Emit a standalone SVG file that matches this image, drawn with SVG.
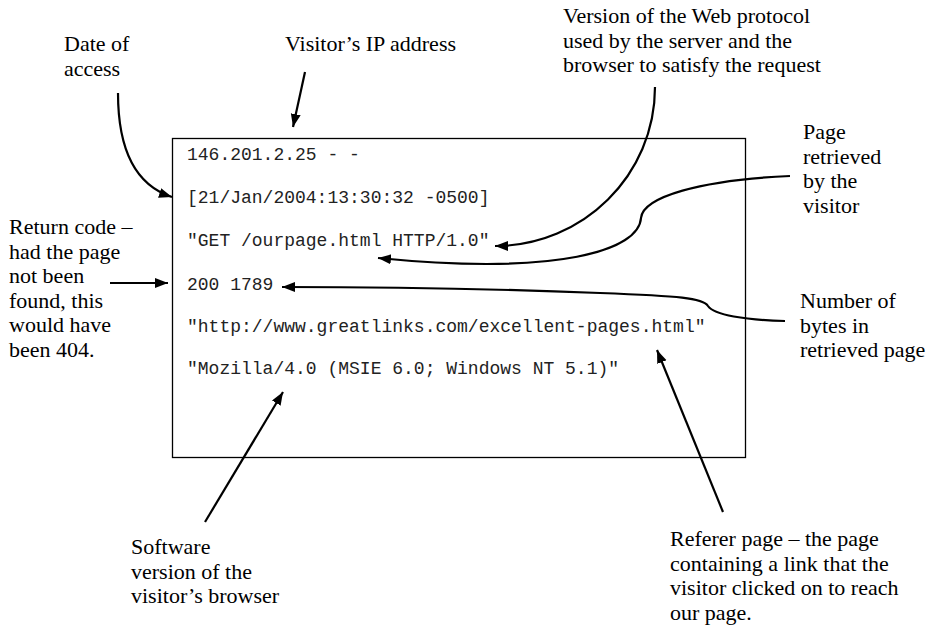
<svg xmlns="http://www.w3.org/2000/svg" width="929" height="625" viewBox="0 0 929 625">
<defs>
<marker id="ah" markerUnits="userSpaceOnUse" markerWidth="16" markerHeight="12" refX="13" refY="5" orient="auto">
<path d="M0,0 L13,5 L0,10 Z" fill="#000"/>
</marker>
<style>
.lbl{font-family:"Liberation Serif","Times New Roman",serif;font-size:22px;fill:#000}
.log{font-family:"Liberation Mono","Courier New",monospace;font-size:18px;fill:#222}
.cn{fill:none;stroke:#000;stroke-width:2.2;marker-end:url(#ah)}
</style>
</defs>
<rect width="929" height="625" fill="#fff"/>
<g id="logbox">
<rect x="172.5" y="138.5" width="573" height="319" fill="none" stroke="#000" stroke-width="1.3"/>
<text class="log" x="187" y="160">146.201.2.25 - -</text>
<text class="log" x="187" y="203">[21/Jan/2004:13:30:32 -0500]</text>
<text class="log" x="187" y="246">"GET /ourpage.html HTTP/1.0"</text>
<text class="log" x="187" y="290">200 1789</text>
<text class="log" x="187" y="332">"http://www.greatlinks.com/excellent-pages.html"</text>
<text class="log" x="187" y="374">"Mozilla/4.0 (MSIE 6.0; Windows NT 5.1)"</text>
</g>
<g id="date">
<text class="lbl" x="64" y="51">Date of</text>
<text class="lbl" x="64" y="75.5">access</text>
</g>
<g id="ip">
<text class="lbl" x="285" y="51">Visitor’s IP address</text>
</g>
<g id="protocol">
<text class="lbl" x="563" y="23">Version of the Web protocol</text>
<text class="lbl" x="563" y="47.5">used by the server and the</text>
<text class="lbl" x="563" y="72">browser to satisfy the request</text>
</g>
<g id="page">
<text class="lbl" x="803" y="139">Page</text>
<text class="lbl" x="803" y="163.5">retrieved</text>
<text class="lbl" x="803" y="188">by the</text>
<text class="lbl" x="803" y="212.5">visitor</text>
</g>
<g id="returncode">
<text class="lbl" x="9" y="234">Return code –</text>
<text class="lbl" x="9" y="258.5">had the page</text>
<text class="lbl" x="9" y="283">not been</text>
<text class="lbl" x="9" y="307.5">found, this</text>
<text class="lbl" x="9" y="332">would have</text>
<text class="lbl" x="9" y="356.5">been 404.</text>
</g>
<g id="bytes">
<text class="lbl" x="800" y="308">Number of</text>
<text class="lbl" x="800" y="332.5">bytes in</text>
<text class="lbl" x="800" y="357">retrieved page</text>
</g>
<g id="software">
<text class="lbl" x="131" y="554">Software</text>
<text class="lbl" x="131" y="578.5">version of the</text>
<text class="lbl" x="131" y="603">visitor’s browser</text>
</g>
<g id="referer">
<text class="lbl" x="670" y="546">Referer page – the page</text>
<text class="lbl" x="670" y="570.5">containing a link that the</text>
<text class="lbl" x="670" y="595">visitor clicked on to reach</text>
<text class="lbl" x="670" y="619.5">our page.</text>
</g>
<g id="connectors">
<path class="cn" d="M118,93 C118,150 135,185 172,197"/>
<path class="cn" d="M305,72 L293,127"/>
<path class="cn" d="M655,87 C655,175 583,246 495,246"/>
<path class="cn" d="M790,176 C700,180 643,197 641,218 C639,250 560,276 378,258"/>
<path class="cn" d="M785,321 C745,320 714,315 708,306 C703,298 680,296 600,293 C500,289 400,287 282,287"/>
<path class="cn" d="M110,283 L168,283"/>
<path class="cn" d="M205,522 L283,392"/>
<path class="cn" d="M723,512 L657,350"/>
</g>
</svg>
